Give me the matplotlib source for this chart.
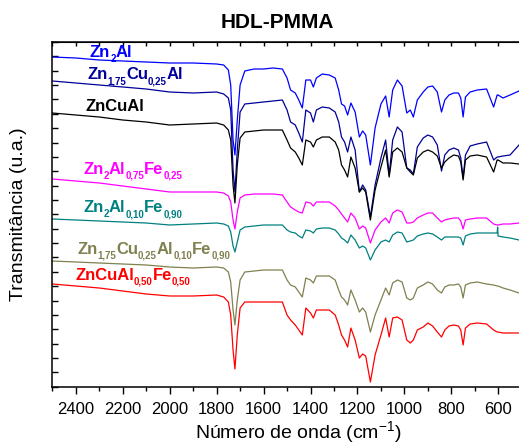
import re
import numpy as np
import matplotlib
matplotlib.use("Agg")
import matplotlib.pyplot as plt

plt.rcParams['font.family'] = ['Liberation Sans', 'DejaVu Sans']
plt.rcParams['mathtext.fontset'] = 'custom'
plt.rcParams['mathtext.rm'] = 'Liberation Sans'
plt.rcParams['mathtext.bf'] = 'Liberation Sans:bold'
plt.rcParams['mathtext.default'] = 'regular'

# ---- data (wavenumber in cm-1, transmittance in arbitrary units, curves offset) ----
wavenumber = [2500, 2400, 2300, 2200, 2100, 2000, 1900, 1800, 1770, 1750, 1740, 1730, 1722,
              1712, 1700, 1680, 1640, 1600, 1560, 1520, 1500, 1485, 1465, 1450, 1435, 1420,
              1400, 1388, 1375, 1350, 1320, 1295, 1280, 1268, 1255, 1242, 1228, 1210, 1192,
              1178, 1165, 1145, 1125, 1100, 1080, 1065, 1050, 1030, 1010, 990, 975, 962, 945,
              920, 900, 880, 860, 842, 828, 810, 790, 770, 760, 750, 740, 720, 690, 650, 620,
              605, 603, 601, 580, 550, 512]

zn2al = [343, 342, 340, 339, 338, 337, 337, 336, 335, 330, 315, 260, 245,
         280, 315, 329, 331, 331, 332, 331, 322, 310, 307, 300, 292, 320,
         320, 313, 322, 326, 325, 322, 310, 296, 294, 285, 297, 288, 263,
         269, 265, 235, 272, 296, 304, 283, 310, 320, 314, 287, 290, 283, 300,
         308, 313, 314, 308, 288, 300, 305, 307, 307, 302, 283, 303, 308, 310, 311, 293,
         305, 305, 305, 302, 305, 309]

zn175cu025al = [319, 317, 315, 313, 311, 308, 307, 308, 306, 302, 290, 230, 208,
                250, 288, 296, 297, 298, 299, 300, 290, 278, 275, 267, 258, 290,
                287, 278, 290, 293, 292, 288, 278, 263, 258, 248, 263, 250, 208,
                215, 210, 183, 215, 242, 260, 225, 260, 273, 268, 232, 230, 226, 253,
                262, 265, 263, 255, 229, 245, 250, 252, 250, 242, 222, 245, 254, 256, 258, 240,
                243, 243, 243, 244, 245, 255]

zncual = [287, 285, 283, 280, 278, 275, 276, 277, 275, 270, 260, 215, 197,
          235, 262, 268, 269, 270, 270, 270, 260, 252, 248, 242, 235, 260,
          258, 253, 260, 263, 263, 258, 250, 235, 230, 223, 243, 232, 208,
          212, 208, 180, 210, 233, 250, 223, 248, 252, 248, 232, 228, 225, 242,
          248, 250, 248, 244, 232, 238, 242, 245, 244, 238, 220, 240, 244, 245, 243, 228,
          240, 240, 240, 237, 237, 236]

zn2al075fe025 = [221, 219, 217, 214, 211, 208, 208, 208, 207, 204, 198, 180, 171,
                 188, 202, 205, 206, 206, 206, 205, 198, 193, 190, 188, 187, 198,
                 197, 194, 198, 198, 198, 194, 190, 186, 182, 178, 187, 182, 171,
                 174, 172, 157, 170, 178, 182, 177, 187, 190, 188, 177, 177, 178, 182,
                 185, 187, 187, 182, 178, 180, 181, 182, 182, 179, 171, 180, 181, 182, 182, 176,
                 175, 175, 175, 176, 176, 177]

zn2al010fe090 = [181, 180, 179, 178, 177, 175, 176, 177, 176, 174, 168, 154, 148,
                 158, 170, 173, 174, 175, 175, 175, 170, 168, 167, 164, 162, 170,
                 169, 167, 171, 172, 172, 170, 166, 162, 160, 157, 165, 160, 152,
                 154, 152, 140, 150, 158, 160, 158, 165, 168, 167, 158, 159, 160, 164,
                 166, 167, 166, 163, 160, 163, 163, 163, 163, 162, 155, 164, 166, 167, 167, 167,
                 167, 173, 164, 163, 162, 160]

zn175cu025al010fe090 = [139, 138, 137, 136, 135, 133, 132, 133, 132, 128, 118, 90, 75,
                        100, 120, 128, 129, 130, 130, 130, 120, 115, 113, 108, 103, 122,
                        120, 117, 124, 124, 124, 120, 110, 103, 100, 95, 110, 100, 88,
                        92, 88, 68, 85, 100, 112, 105, 117, 120, 118, 102, 100, 102, 112,
                        115, 118, 116, 110, 107, 113, 115, 115, 116, 113, 102, 115, 117, 118, 116, 115,
                        114, 114, 114, 112, 110, 107]

zncual050fe050 = [116, 114, 112, 109, 106, 104, 104, 105, 103, 98, 85, 50, 31,
                  65, 92, 98, 98, 98, 98, 98, 85, 80, 75, 70, 65, 92,
                  87, 82, 90, 90, 90, 85, 75, 65, 60, 53, 72, 60, 42,
                  46, 44, 18, 45, 65, 82, 63, 82, 83, 80, 60, 57, 60, 70,
                  73, 77, 74, 68, 63, 70, 74, 75, 74, 70, 55, 72, 76, 77, 76, 70,
                  68, 68, 68, 67, 67, 67]

labels = ['Zn_{2}Al', 'Zn_{1,75}Cu_{0,25}Al', 'ZnCuAl', 'Zn_{2}Al_{0,75}Fe_{0,25}',
          'Zn_{2}Al_{0,10}Fe_{0,90}', 'Zn_{1,75}Cu_{0,25}Al_{0,10}Fe_{0,90}',
          'ZnCuAl_{0,50}Fe_{0,50}']
colors = ['#0000FF', '#000099', '#000000', '#FF00FF', '#008080', '#808050', '#FF0000']
values = [zn2al, zn175cu025al, zncual, zn2al075fe025, zn2al010fe090,
          zn175cu025al010fe090, zncual050fe050]
label_pos = [(90, 57), (87, 79), (85, 111), (83, 174), (83, 212), (77, 253.5), (75, 280)]

W, H = 519, 445
fig = plt.figure(figsize=(W / 100, H / 100), dpi=100)
ax_left, ax_right, ax_top, ax_bot = 52.3, 521.8, 42.0, 386.7
ax = fig.add_axes([ax_left / W, 1 - ax_bot / H, (ax_right - ax_left) / W, (ax_bot - ax_top) / H])
renderer = fig.canvas.get_renderer()


def draw_label(text, x_px, y_px, color):
    parts = re.split(r'_\{([^}]*)\}', text)
    x = x_px
    for i, p in enumerate(parts):
        if not p:
            continue
        sub = (i % 2 == 1)
        fs = 7 if sub else 12
        yy = y_px + (5 if sub else 0)
        t = fig.text(x / W, 1 - yy / H, p, fontsize=fs, fontweight='bold', color=color,
                     ha='left', va='baseline')
        x += t.get_window_extent(renderer=renderer).width


for vals, col, lab, (lx, ly) in zip(values, colors, labels, label_pos):
    ax.plot(wavenumber, vals, color=col, lw=0.9)
    draw_label(lab, lx, ly, col)

ax.set_xlim(2500, 500)
ymin, ymax = 400 - ax_bot, 400 - ax_top
ax.set_ylim(ymin, ymax)

ax.set_xticks(np.arange(600, 2401, 200))
ax.set_xticks(np.arange(500, 2501, 100), minor=True)
ax.tick_params(axis='x', which='major', direction='out', length=5, width=1, labelsize=12, pad=6,
               top=False)
ax.tick_params(axis='x', which='minor', direction='out', length=3, width=1, top=False)
ax.set_yticks(np.linspace(ymin, ymax, 25))
ax.tick_params(axis='y', which='major', direction='in', length=4, width=1, labelleft=False)

# top ticks pointing inward
secx = ax.secondary_xaxis('top')
secx.set_xticks(np.arange(500, 2501, 100))
secx.tick_params(direction='in', length=3, width=1, labeltop=False)
secx.set_xticklabels([])

for sp in ax.spines.values():
    sp.set_linewidth(1.1)

fig.text(298 / W, 1 - 438 / H, r'Número de onda (cm$^{-1}$)', fontsize=14,
         ha='center', va='baseline')
fig.text(19 / W, 1 - 214.5 / H, 'Transmitância (u.a.)', rotation=90, fontsize=14,
         ha='center', va='center')
fig.text(277 / W, 1 - 22 / H, 'HDL-PMMA', fontsize=15, fontweight='bold', ha='center', va='center')

fig.savefig('out.png', dpi=100)
